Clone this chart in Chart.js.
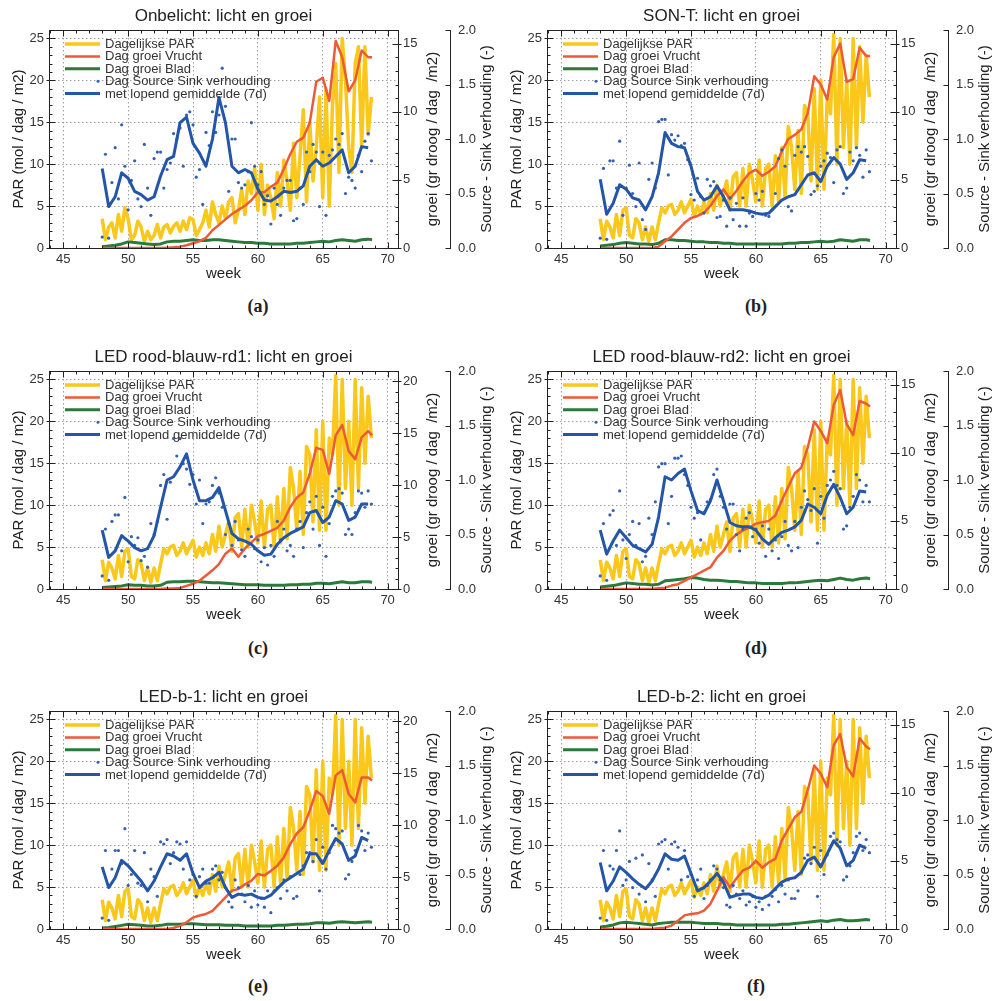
<!DOCTYPE html>
<html>
<head>
<meta charset="utf-8">
<title>licht en groei</title>
<script src="https://cdn.jsdelivr.net/npm/chart.js@4.4.0/dist/chart.umd.min.js"></script>
<style>
  body { margin: 0; background: #fff; }
  #page { position: relative; width: 993px; height: 1001px; overflow: hidden; }
  #page canvas { position: absolute; }
  .cap { position: absolute; width: 60px; text-align: center; font: bold 18px "Liberation Serif", "DejaVu Serif", serif; color: #222; }
</style>
</head>
<body>
<div id="page"></div>
<script>
// x grids (week numbers)
const dayWeeks = [48,48.25,48.5,48.75,49,49.25,49.5,49.75,50,50.25,50.5,50.75,51,51.25,51.5,51.75,
  52,52.25,52.5,52.75,53,53.25,53.5,53.75,54,54.25,54.5,54.75,55,55.25,55.5,55.75,
  56,56.25,56.5,56.75,57,57.25,57.5,57.75,58,58.25,58.5,58.75,59,59.25,59.5,59.75,
  60,60.25,60.5,60.75,61,61.25,61.5,61.75,62,62.25,62.5,62.75,63,63.25,63.5,63.75,
  64,64.25,64.5,64.75,65,65.25,65.5,65.75,66,66.25,66.5,66.75,67,67.25,67.5,67.75,
  68,68.25,68.5,68.75];
const lineWeeks = [48,48.5,49,49.5,50,50.5,51,51.5,52,52.5,53,53.5,54,54.5,55,55.5,56,56.5,57,57.5,
  58,58.5,59,59.5,60,60.5,61,61.5,62,62.5,63,63.5,64,64.5,65,65.5,66,66.5,67,67.5,68,68.5,68.8];

// tick labels
const weekTicks = [45, 50, 55, 60, 65, 70];
const parTicks = [0, 5, 10, 15, 20, 25];
const sinkTicks = [0, 0.5, 1, 1.5, 2];

const seriesNames = ['Dagelijkse PAR', 'Dag groei Vrucht', 'Dag groei Blad', 'Dag Source Sink verhouding', 'met lopend gemiddelde (7d)'];

// daily PAR (mol / dag / m2)
const parOnbelicht = [3.5,1.0,2.5,3.0, 1.2,4.0,2.0,4.8, 3.5,1.0,1.5,3.2, 2.5,0.8,2.0,1.0,
  1.5,2.8,1.2,2.5, 2.8,1.8,2.6,3.0, 2.0,3.2,2.2,3.6, 3.4,1.5,2.2,3.0,
  4.5,2.5,5.5,4.0, 3.0,5.0,3.5,5.5, 6.0,3.0,4.5,7.0, 4.0,8.0,6.5,9.5,
  4.5,10.0,4.0,7.5, 6.0,3.5,9.0,5.0, 10.5,8.0,4.5,12.5, 6.0,11.0,16.5,5.5,
  15.0,8.0,12.0,18.0, 6.0,19.0,5.0,17.0, 22.0,9.0,25.0,20.0, 12.0,9.0,22.0,24.0,
  12.0,24.0,13.5,18.0];
const parBelicht = [3.5,1.0,3.2,2.5, 1.2,4.0,1.5,4.5, 4.8,1.5,1.2,3.5, 3.0,1.0,2.5,0.8,
  2.5,1.0,3.0,4.8, 4.2,5.0,5.2,4.0, 4.5,5.5,4.2,5.0, 5.8,3.8,5.0,4.0,
  5.5,4.2,6.5,4.5, 7.5,5.0,6.5,8.0, 4.5,8.5,9.0,5.0, 9.5,5.0,10.0,8.0,
  5.5,10.5,5.0,9.5, 10.0,5.0,11.0,5.5, 12.0,6.0,14.5,12.0, 7.0,14.0,6.5,17.0,
  16.0,8.0,19.0,7.0, 20.0,7.0,18.0,16.0, 25.5,10.0,25.0,12.0, 20.0,10.0,25.0,12.0,
  24.0,15.0,23.0,18.0];

// Dag groei Vrucht (gr droog / dag / m2)
const vruchtA = [0,0,0,0,0,0,0,0,0,0, 0.02,0.05,0.1,0.2,0.35,0.5,0.75,1.3,1.7,2.1,
  2.5,2.8,3.1,3.5,4.1,4.1,4.5,4.8,5.8,6.9, 7.8,8.1,9.2,12.2,12.5,10.8,15.2,14.0,11.5,12.3,
  14.5,14.0,14.0];
const vruchtB = [0,0,0,0,0,0,0,0,0,0.1, 0.5,0.85,1.35,1.85,2.2,2.35,2.6,3.1,3.8,4.3,
  3.6,4.2,4.9,5.5,5.75,5.3,5.6,6.0,7.1,8.0, 8.3,8.7,9.9,12.6,12.0,10.9,14.0,15.0,12.2,12.4,
  14.7,14.1,14.1];
const vruchtC = [0,0,0,0,0,0,0,0,0,0, 0.05,0.05,0.1,0.3,0.5,0.8,1.3,1.8,2.4,3.4,
  3.9,3.1,3.9,4.5,5.1,5.3,5.6,5.9,6.6,7.9, 8.8,9.3,11.1,13.6,13.4,11.1,14.8,15.8,13.3,12.5,
  14.6,15.2,14.8];
const vruchtD = [0,0,0,0,0,0,0,0,0,0.05, 0.1,0.25,0.35,0.6,0.85,1.1,1.35,1.6,2.3,2.8,
  3.55,4.0,4.3,4.5,4.8,4.9,5.0,5.4,6.5,7.5, 8.5,8.9,10.4,12.3,11.6,10.7,13.5,14.6,12.1,11.3,
  13.8,13.6,13.4];
const vruchtE = [0,0,0,0,0,0,0,0,0,0, 0,0.1,0.3,0.65,1.1,1.3,1.45,1.75,2.4,3.05,
  3.7,3.85,4.3,4.65,5.3,5.15,5.6,6.1,6.9,8.2, 9.2,9.8,11.4,13.3,12.8,11.1,14.8,15.3,13.0,12.2,
  14.6,14.6,14.3];
const vruchtF = [0,0,0,0,0,0,0,0,0,0.05, 0.1,0.25,0.6,1.0,1.1,1.15,1.35,1.85,2.8,3.8,
  3.05,3.7,4.3,4.5,5.0,4.5,4.9,5.15,6.5,7.35, 8.2,8.6,10.2,12.0,11.4,10.4,13.5,14.3,11.9,11.2,
  14.0,13.4,13.2];

// Dag groei Blad (gr droog / dag / m2)
const bladA = [0.1,0.15,0.2,0.3,0.45,0.4,0.35,0.3,0.25,0.3, 0.45,0.5,0.5,0.55,0.6,0.55,0.55,0.6,0.6,0.55,
  0.5,0.45,0.4,0.4,0.35,0.35,0.3,0.3,0.3,0.3, 0.35,0.35,0.4,0.45,0.5,0.45,0.55,0.6,0.55,0.5, 0.6,0.65,0.6];
const bladB = [0.15,0.2,0.25,0.35,0.4,0.35,0.3,0.3,0.25,0.35, 0.6,0.6,0.55,0.55,0.5,0.45,0.45,0.4,0.4,0.35,
  0.35,0.3,0.3,0.3,0.3,0.3,0.3,0.3,0.3,0.35, 0.35,0.4,0.4,0.45,0.5,0.45,0.5,0.6,0.55,0.5, 0.6,0.6,0.55];
const bladC = [0.15,0.2,0.25,0.3,0.4,0.35,0.35,0.3,0.3,0.35, 0.65,0.7,0.7,0.75,0.75,0.7,0.65,0.6,0.6,0.55,
  0.5,0.45,0.4,0.4,0.4,0.35,0.35,0.35,0.35,0.4, 0.4,0.45,0.45,0.55,0.55,0.5,0.6,0.7,0.6,0.6, 0.7,0.7,0.65];
const bladD = [0.15,0.2,0.25,0.35,0.45,0.4,0.35,0.35,0.3,0.35, 0.6,0.65,0.7,0.75,0.85,0.8,0.7,0.65,0.65,0.6,
  0.55,0.55,0.5,0.45,0.45,0.4,0.4,0.4,0.4,0.45, 0.45,0.5,0.55,0.6,0.65,0.6,0.7,0.8,0.7,0.65, 0.75,0.8,0.75];
const bladE = [0.1,0.15,0.25,0.35,0.45,0.4,0.35,0.3,0.3,0.35, 0.45,0.45,0.45,0.5,0.5,0.45,0.4,0.4,0.4,0.35,
  0.35,0.35,0.3,0.3,0.3,0.3,0.3,0.35,0.35,0.4, 0.45,0.45,0.5,0.6,0.6,0.55,0.65,0.7,0.65,0.6, 0.65,0.7,0.65];
const bladF = [0.15,0.2,0.3,0.45,0.5,0.45,0.4,0.35,0.3,0.4, 0.45,0.5,0.5,0.5,0.5,0.45,0.4,0.4,0.4,0.35,
  0.35,0.3,0.3,0.3,0.3,0.3,0.3,0.3,0.35,0.35, 0.4,0.45,0.5,0.55,0.6,0.55,0.65,0.7,0.6,0.6, 0.65,0.7,0.65];

// Dag Source Sink verhouding (-)
const dotsA = [0.10,0.86,0.09,0.60, 0.92,0.45,1.13,0.75, 0.35,0.62,0.80,0.45, 0.38,0.95,0.55,0.30,
  0.82,0.88,0.88,0.55, 0.72,0.78,1.05,1.00, 1.10,0.75,1.22,1.25, 1.13,0.65,0.72,0.40,
  1.06,0.94,1.25,1.06, 1.22,1.65,1.30,0.52, 1.00,1.00,0.60,0.55, 0.58,0.70,1.15,0.75,
  0.58,0.70,0.40,0.48, 0.22,0.55,0.40,0.30, 0.55,0.62,0.62,0.25, 0.27,0.55,0.40,0.88,
  0.70,0.95,0.88,0.38, 0.88,0.30,0.85,0.90, 1.00,0.95,1.05,0.50, 0.65,0.62,0.55,0.85,
  0.70,0.98,1.05,0.80];
const dotsB = [0.09,0.73,0.08,0.80, 0.80,0.55,0.98,0.30, 0.55,0.76,0.50,0.38, 0.78,0.26,0.17,0.63,
  0.78,0.55,1.16,1.18, 1.18,0.67,1.04,0.99, 1.03,0.94,0.96,0.81, 0.49,0.44,0.64,0.47,
  0.32,0.63,0.57,0.61, 0.28,0.29,0.44,0.20, 0.46,0.26,0.41,0.20, 0.46,0.20,0.32,0.29,
  0.50,0.44,0.52,0.30, 0.29,0.35,0.50,0.82, 0.90,0.75,0.38,0.34, 0.85,0.93,0.88,0.93,
  0.84,0.49,0.52,0.57, 0.75,0.80,0.87,0.83, 0.60,0.90,0.93,0.50, 0.55,0.88,0.80,0.92,
  0.85,0.65,0.90,0.70];
const dotsC = [0.12,0.55,0.08,0.62, 0.68,0.68,0.35,0.84, 0.25,0.48,0.40,0.47, 0.26,0.30,0.20,0.60,
  0.50,0.62,0.95,1.05, 0.64,0.98,1.38,1.22, 1.38,1.15,1.10,0.96, 1.05,0.78,1.00,0.60,
  0.78,0.80,0.95,1.02, 0.88,0.75,0.50,0.60, 0.40,0.62,0.45,0.36, 0.30,0.55,0.48,0.37,
  0.45,0.25,0.38,0.22, 0.40,0.30,0.62,0.45, 0.55,0.35,0.40,0.30, 0.55,0.62,0.38,0.70,
  0.80,0.55,0.85,0.40, 0.75,0.30,0.60,0.85, 0.90,0.92,0.88,0.50, 0.55,0.50,0.70,0.90,
  0.88,0.75,0.90,0.78];
const dotsD = [0.12,0.60,0.08,0.68, 0.72,0.40,0.90,0.45, 0.28,0.50,0.62,0.40, 0.60,0.25,0.30,0.65,
  0.50,0.80,1.12,1.15, 1.15,0.60,0.85,1.20, 1.20,1.22,1.05,0.95, 0.75,0.65,0.70,0.45,
  0.70,0.80,0.82,1.05, 1.10,0.85,0.75,0.55, 0.78,0.78,0.50,0.35, 0.55,0.65,0.70,0.48,
  0.55,0.42,0.58,0.30, 0.55,0.35,0.45,0.28, 0.48,0.62,0.40,0.35, 0.62,0.38,0.75,0.90,
  0.82,0.72,0.92,0.42, 0.85,0.65,0.95,1.00, 1.08,0.95,0.92,0.55, 0.58,0.75,0.85,1.05,
  1.00,0.80,0.95,0.80];
const dotsE = [0.10,0.72,0.08,0.55, 0.72,0.72,0.60,0.92, 0.40,0.50,0.72,0.42, 0.40,0.70,0.25,0.55,
  0.48,0.30,0.80,0.78, 0.82,0.60,0.70,0.80, 0.78,0.55,0.80,0.45, 0.50,0.30,0.48,0.55,
  0.42,0.42,0.55,0.58, 0.45,0.52,0.38,0.25, 0.20,0.45,0.38,0.32, 0.25,0.40,0.20,0.35,
  0.22,0.28,0.20,0.35, 0.15,0.35,0.38,0.28, 0.45,0.35,0.48,0.28, 0.30,0.50,0.58,0.70,
  0.70,0.62,0.82,0.35, 0.75,0.55,0.70,0.95, 0.92,0.88,0.90,0.46, 0.50,0.62,0.72,0.95,
  0.90,0.72,0.88,0.75];
const dotsF = [0.10,0.72,0.08,0.58, 0.55,0.72,0.90,0.40, 0.45,0.62,0.38,0.65, 0.32,0.68,0.25,0.60,
  0.45,0.30,0.78,0.80, 0.82,0.55,0.78,0.80, 0.75,0.45,0.72,0.48, 0.50,0.30,0.45,0.55,
  0.28,0.40,0.45,0.58, 0.55,0.45,0.38,0.22, 0.20,0.40,0.32,0.28, 0.35,0.22,0.25,0.30,
  0.20,0.25,0.18,0.30, 0.22,0.30,0.36,0.25, 0.40,0.32,0.45,0.28, 0.28,0.35,0.52,0.65,
  0.68,0.60,0.75,0.30, 0.72,0.50,0.68,0.85, 0.88,0.82,0.80,0.45, 0.48,0.58,0.70,0.85,
  0.88,0.72,0.82,0.70];

// met lopend gemiddelde (7d)
const meanA = [0.73,0.38,0.47,0.69,0.64,0.52,0.49,0.44,0.47,0.66, 0.81,0.84,1.15,1.20,0.96,0.87,0.75,1.0,1.38,1.15,
  0.75,0.69,0.72,0.69,0.54,0.44,0.43,0.47,0.52,0.51, 0.52,0.57,0.75,0.81,0.75,0.78,0.84,0.90,0.69,0.75, 0.93,0.92,null];
const meanB = [0.63,0.31,0.41,0.58,0.54,0.46,0.44,0.35,0.47,0.69, 1.06,0.96,0.93,0.92,0.75,0.52,0.44,0.47,0.57,0.47,
  0.35,0.35,0.35,0.34,0.32,0.31,0.32,0.38,0.44,0.47, 0.49,0.58,0.67,0.69,0.61,0.75,0.83,0.77,0.63,0.69, 0.81,0.80,null];
const meanC = [0.54,0.29,0.35,0.49,0.44,0.38,0.35,0.37,0.49,0.75, 1.0,1.03,1.12,1.24,1.0,0.81,0.81,0.84,0.93,0.72,
  0.51,0.46,0.44,0.41,0.35,0.31,0.32,0.41,0.47,0.51, 0.54,0.57,0.70,0.72,0.61,0.66,0.81,0.78,0.63,0.66, 0.78,0.78,null];
const meanD = [0.54,0.32,0.44,0.54,0.47,0.40,0.37,0.34,0.41,0.66, 1.03,1.0,1.06,1.10,0.90,0.72,0.69,0.81,1.0,0.81,
  0.61,0.58,0.57,0.57,0.54,0.46,0.41,0.47,0.52,0.54, 0.57,0.63,0.78,0.75,0.69,0.86,0.96,0.84,0.69,0.75, 0.90,0.89,null];
const meanE = [0.57,0.38,0.47,0.63,0.58,0.51,0.44,0.35,0.44,0.57, 0.69,0.67,0.63,0.69,0.51,0.38,0.44,0.47,0.52,0.38,
  0.29,0.32,0.31,0.32,0.29,0.28,0.31,0.37,0.43,0.47, 0.51,0.55,0.69,0.69,0.60,0.72,0.83,0.78,0.63,0.67, 0.84,0.81,null];
const meanF = [0.61,0.35,0.44,0.57,0.52,0.46,0.41,0.37,0.44,0.55, 0.69,0.64,0.63,0.67,0.51,0.35,0.38,0.44,0.51,0.43,
  0.29,0.31,0.32,0.32,0.29,0.28,0.31,0.37,0.43,0.46, 0.47,0.52,0.63,0.66,0.57,0.69,0.81,0.74,0.58,0.63, 0.77,0.74,null];

const panels = [
  { title: 'Onbelicht: licht en groei', cap: '(a)', par: parOnbelicht, vrucht: vruchtA, blad: bladA, dots: dotsA, mean: meanA, groeiMax: 16, groeiTicks: [0, 5, 10, 15] },
  { title: 'SON-T: licht en groei', cap: '(b)', par: parBelicht, vrucht: vruchtB, blad: bladB, dots: dotsB, mean: meanB, groeiMax: 16, groeiTicks: [0, 5, 10, 15] },
  { title: 'LED rood-blauw-rd1: licht en groei', cap: '(c)', par: parBelicht, vrucht: vruchtC, blad: bladC, dots: dotsC, mean: meanC, groeiMax: 21, groeiTicks: [0, 5, 10, 15, 20] },
  { title: 'LED rood-blauw-rd2: licht en groei', cap: '(d)', par: parBelicht, vrucht: vruchtD, blad: bladD, dots: dotsD, mean: meanD, groeiMax: 16, groeiTicks: [0, 5, 10, 15] },
  { title: 'LED-b-1: licht en groei', cap: '(e)', par: parBelicht, vrucht: vruchtE, blad: bladE, dots: dotsE, mean: meanE, groeiMax: 21, groeiTicks: [0, 5, 10, 15, 20] },
  { title: 'LED-b-2: licht en groei', cap: '(f)', par: parBelicht, vrucht: vruchtF, blad: bladF, dots: dotsF, mean: meanF, groeiMax: 16, groeiTicks: [0, 5, 10, 15] }
];

const colors = { par: '#f9c81a', vrucht: '#ee5a38', blad: '#2b7a3b', dots: '#3561b3', mean: '#2356a8' };
const FONT = '"Liberation Sans", Arial, sans-serif';

Chart.defaults.font.family = FONT;
Chart.defaults.color = '#333';

// plot frame, inward ticks, legend in the plot and the titles
const framePlugin = {
  id: 'frame',
  afterDatasetsDraw(chart, args, o) {
    const { ctx, chartArea: a, scales } = chart;
    const line = (x1, y1, x2, y2) => { ctx.beginPath(); ctx.moveTo(x1, y1); ctx.lineTo(x2, y2); ctx.stroke(); };
    const L = Math.round(a.left) + 0.5, R = Math.round(a.right) + 0.5;
    const T = Math.round(a.top) + 0.5, B = Math.round(a.bottom) + 0.5;
    ctx.save();
    ctx.strokeStyle = '#222';
    ctx.lineWidth = 1;
    ctx.strokeRect(L, T, R - L, B - T);
    for (let w = 44; w <= 70; w++) {
      const x = Math.round(scales.x.getPixelForValue(w)) + 0.5;
      const n = w % 5 === 0 ? 6 : 3;
      line(x, B, x, B - n);
      line(x, T, x, T + n);
    }
    for (let v = 0; v <= 26; v++) {
      const y = Math.round(scales.yPar.getPixelForValue(v)) + 0.5;
      if (v % 5 === 0) line(L - 3, y, L + 6, y); else line(L, y, L + 3, y);
    }
    for (let v = 0; v <= o.groeiMax; v++) {
      const y = Math.round(scales.yGroei.getPixelForValue(v)) + 0.5;
      if (v % 5 === 0) line(R - 6, y, R + 3, y); else line(R - 3, y, R, y);
    }
    const sx = Math.round(scales.ySink.left) + 0.5;
    sinkTicks.forEach(v => {
      const y = Math.round(scales.ySink.getPixelForValue(v)) + 0.5;
      line(sx - 5, y, sx, y);
    });

    // legend
    const lx = a.left + 16, ly = a.top + 14;
    ctx.font = '13px ' + FONT;
    ctx.textAlign = 'left';
    ctx.textBaseline = 'middle';
    chart.data.datasets.forEach((ds, i) => {
      const y = ly + i * 12.4;
      if (ds.showLine === false) {
        ctx.fillStyle = ds.pointBackgroundColor;
        ctx.beginPath();
        ctx.arc(lx + 33, y, 1.5, 0, Math.PI * 2);
        ctx.fill();
      } else {
        ctx.strokeStyle = ds.borderColor;
        ctx.lineWidth = ds.borderWidth;
        line(lx, y, lx + 35, y);
      }
      ctx.fillStyle = '#333';
      ctx.fillText(ds.label, lx + 40, y + 0.5);
    });

    // titles
    ctx.fillStyle = '#222';
    ctx.textAlign = 'center';
    ctx.font = '17px ' + FONT;
    ctx.fillText(o.title, (a.left + a.right) / 2, 16);
    ctx.font = '15px ' + FONT;
    const cy = (a.top + a.bottom) / 2;
    [[o.groeiTitle, a.right + 35], [o.sinkTitle, a.right + 89]].forEach(([t, x]) => {
      ctx.save();
      ctx.translate(x, cy);
      ctx.rotate(-Math.PI / 2);
      ctx.fillText(t, 0, 0);
      ctx.restore();
    });
    ctx.restore();
  }
};

function pts(xs, ys) {
  return ys.map((y, i) => ({ x: xs[i], y: y }));
}

function buildConfig(p) {
  const lineDs = (label, data, axis, color, width, order) => ({
    label, data, yAxisID: axis, borderColor: color, backgroundColor: color,
    borderWidth: width, pointRadius: 0, order, borderJoinStyle: 'round', fill: false
  });
  return {
    type: 'line',
    data: {
      datasets: [
        lineDs(seriesNames[0], pts(dayWeeks, p.par), 'yPar', colors.par, 3.5, 5),
        lineDs(seriesNames[1], pts(lineWeeks, p.vrucht), 'yGroei', colors.vrucht, 2.5, 3),
        lineDs(seriesNames[2], pts(lineWeeks, p.blad), 'yGroei', colors.blad, 3, 4),
        {
          label: seriesNames[3], data: pts(dayWeeks, p.dots), yAxisID: 'ySink', showLine: false,
          pointRadius: 1.6, pointBorderWidth: 0, pointBackgroundColor: colors.dots, borderColor: colors.dots, order: 2
        },
        lineDs(seriesNames[4], pts(lineWeeks, p.mean), 'ySink', colors.mean, 3, 1)
      ]
    },
    options: {
      responsive: false,
      animation: false,
      devicePixelRatio: 1,
      layout: { padding: { top: 30, left: 0, right: 0, bottom: 0 } },
      plugins: {
        legend: { display: false },
        tooltip: { enabled: false },
        frame: {
          title: p.title, groeiMax: p.groeiMax,
          groeiTitle: 'groei (gr droog / dag  /m2)',
          sinkTitle: 'Source - Sink verhouding (-)'
        }
      },
      scales: {
        x: {
          type: 'linear', min: 43.9, max: 70.8,
          afterBuildTicks: s => { s.ticks = weekTicks.map(v => ({ value: v })); },
          afterFit: s => { s.height = 37; },
          grid: { color: '#a0a0a0', drawTicks: false },
          border: { color: '#222', dash: [1.5, 2.5] },
          ticks: { padding: 4, font: { size: 13 }, maxRotation: 0 },
          title: { display: true, text: 'week', color: '#222', font: { size: 15 }, padding: { top: 0, bottom: 2 } }
        },
        yPar: {
          position: 'left', min: 0, max: 26,
          afterBuildTicks: s => { s.ticks = parTicks.map(v => ({ value: v })); },
          afterFit: s => { s.width = 49; },
          grid: { color: '#a0a0a0', drawTicks: false },
          border: { color: '#222', dash: [1.5, 2.5] },
          ticks: { padding: 5, font: { size: 13 } },
          title: { display: true, text: 'PAR (mol / dag / m2)', color: '#222', font: { size: 15 }, padding: { top: 10, bottom: 0 } }
        },
        yGroei: {
          position: 'right', weight: 0, min: 0, max: p.groeiMax,
          afterBuildTicks: s => { s.ticks = p.groeiTicks.map(v => ({ value: v })); },
          afterFit: s => { s.width = 52; },
          grid: { display: false, drawTicks: false },
          border: { display: false },
          ticks: { padding: 5, font: { size: 13 } }
        },
        ySink: {
          position: 'right', weight: 1, min: 0, max: 2,
          afterBuildTicks: s => { s.ticks = sinkTicks.map(v => ({ value: v })); },
          afterFit: s => { s.width = 45; },
          grid: { display: false, drawTicks: false },
          border: { display: true, color: '#222' },
          ticks: { padding: 8, font: { size: 13 }, callback: v => Number(v).toFixed(1) }
        }
      }
    },
    plugins: [framePlugin]
  };
}

const page = document.getElementById('page');
const rowTops = [0, 341, 681];
const capTops = [307, 649, 987];

panels.forEach((p, i) => {
  const col = i % 2, row = Math.floor(i / 2);
  const canvas = document.createElement('canvas');
  canvas.width = 495;
  canvas.height = 285;
  canvas.style.left = (col * 498) + 'px';
  canvas.style.top = rowTops[row] + 'px';
  page.appendChild(canvas);

  const cap = document.createElement('div');
  cap.className = 'cap';
  cap.textContent = p.cap;
  cap.style.left = (col * 498 + 258 - 30) + 'px';
  cap.style.top = (capTops[row] - 11) + 'px';
  page.appendChild(cap);

  new Chart(canvas, buildConfig(p));
});
</script>
</body>
</html>
